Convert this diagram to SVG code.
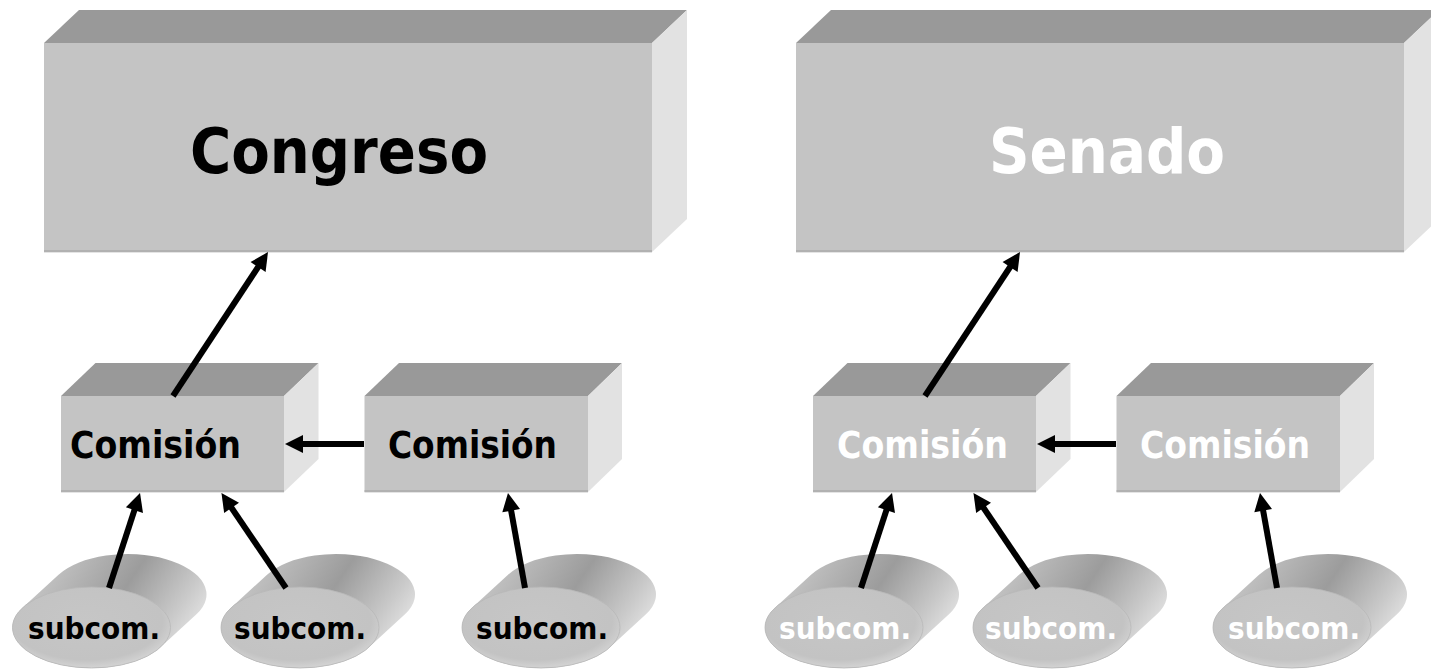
<svg xmlns="http://www.w3.org/2000/svg" xmlns:xlink="http://www.w3.org/1999/xlink" width="1431" height="669" viewBox="0 0 1431 669">
<style>
.front{fill:#c4c4c4}
.top{fill:#999999}
.side{fill:#e2e2e2}
.edge{stroke:#ababab;stroke-width:1.5;fill:none}
.edge2{stroke:#e4e4e4;stroke-width:1;fill:none}
.t{font-family:"DejaVu Sans Condensed","DejaVu Sans",sans-serif;font-stretch:condensed;font-weight:bold}
.big{font-size:63px}
.mid{font-size:37px}
.sm{font-size:30px}
.dark{fill:#000000}
.light{fill:#ffffff}
.arrow{stroke:#000000;stroke-width:6;fill:none;marker-end:url(#ah)}
</style>
<defs>
<marker id="ah" markerUnits="userSpaceOnUse" markerWidth="18" markerHeight="18" refX="6" refY="9" orient="auto" overflow="visible">
<path d="M0,0 L18,9 L0,18 Z" fill="#000000"/>
</marker>
<linearGradient id="cylBody" x1="0" y1="0.3" x2="1" y2="0.7">
<stop offset="0" stop-color="#cdcdcd"/>
<stop offset="0.5" stop-color="#9c9c9c"/>
<stop offset="0.8" stop-color="#cacaca"/>
<stop offset="1" stop-color="#ececec"/>
</linearGradient>
<radialGradient id="cylFace" cx="0.47" cy="0.42" r="0.6">
<stop offset="0" stop-color="#c6c6c6"/>
<stop offset="0.8" stop-color="#c3c3c3"/>
<stop offset="1" stop-color="#d6d6d6"/>
</radialGradient>
<g id="cyl">
<path d="M-68.96,-19.76 L-32.96,-52.76 A79,40.5 0 0 1 104.96,-13.24 L68.96,19.76 A79,40.5 0 0 1 -68.96,-19.76 Z" fill="url(#cylBody)"/>
<ellipse cx="0" cy="0" rx="79" ry="40.5" fill="url(#cylFace)" stroke="#b8b8b8" stroke-width="0.8"/>
</g>
</defs>
<rect width="1431" height="669" fill="#ffffff"/>

<g id="congreso">
<polygon class="top" points="44,43 79,10 687,10 652,43"/>
<polygon class="side" points="652,43 687,10 687,219 652,252"/>
<rect class="front" x="44" y="43" width="608" height="209"/>
<line class="edge" x1="44" y1="251" x2="652" y2="251"/>
<line class="edge2" x1="44" y1="252.5" x2="652" y2="252.5"/>
<text class="t big dark" x="190" y="173" textLength="298" lengthAdjust="spacingAndGlyphs">Congreso</text>
</g>

<g id="comision-c1">
<polygon class="top" points="61,396 95.5,363 318.5,363 284,396"/>
<polygon class="side" points="284,396 318.5,363 318.5,459 284,492"/>
<rect class="front" x="61" y="396" width="223" height="96"/>
<line class="edge" x1="61" y1="491" x2="284" y2="491"/>
<line class="edge2" x1="61" y1="492.5" x2="284" y2="492.5"/>
<text class="t mid dark" x="70" y="458" textLength="171" lengthAdjust="spacingAndGlyphs">Comisión</text>
</g>

<g id="comision-c2">
<polygon class="top" points="364.5,396 399,363 622,363 588,396"/>
<polygon class="side" points="588,396 622,363 622,459 588,492"/>
<rect class="front" x="364.5" y="396" width="223.5" height="96"/>
<line class="edge" x1="364.5" y1="491" x2="588" y2="491"/>
<line class="edge2" x1="364.5" y1="492.5" x2="588" y2="492.5"/>
<text class="t mid dark" x="388" y="458" textLength="169" lengthAdjust="spacingAndGlyphs">Comisión</text>
</g>

<g id="subcom-c1">
<use xlink:href="#cyl" href="#cyl" transform="translate(91.5,627.5)"/>
<text class="t sm dark" x="28" y="639" textLength="132" lengthAdjust="spacingAndGlyphs">subcom.</text>
</g>
<g id="subcom-c2">
<use xlink:href="#cyl" href="#cyl" transform="translate(300,627.5)"/>
<text class="t sm dark" x="234" y="639" textLength="132" lengthAdjust="spacingAndGlyphs">subcom.</text>
</g>
<g id="subcom-c3">
<use xlink:href="#cyl" href="#cyl" transform="translate(541,627.5)"/>
<text class="t sm dark" x="476" y="639" textLength="132" lengthAdjust="spacingAndGlyphs">subcom.</text>
</g>

<g id="senado">
<polygon class="top" points="796,43 831,10 1439,10 1404,43"/>
<polygon class="side" points="1404,43 1439,10 1439,219 1404,252"/>
<rect class="front" x="796" y="43" width="608" height="209"/>
<line class="edge" x1="796" y1="251" x2="1404" y2="251"/>
<line class="edge2" x1="796" y1="252.5" x2="1404" y2="252.5"/>
<text class="t big light" x="989" y="173" textLength="236" lengthAdjust="spacingAndGlyphs">Senado</text>
</g>

<g id="comision-s1">
<polygon class="top" points="813,396 847.5,363 1070.5,363 1036,396"/>
<polygon class="side" points="1036,396 1070.5,363 1070.5,459 1036,492"/>
<rect class="front" x="813" y="396" width="223" height="96"/>
<line class="edge" x1="813" y1="491" x2="1036" y2="491"/>
<line class="edge2" x1="813" y1="492.5" x2="1036" y2="492.5"/>
<text class="t mid light" x="837" y="458" textLength="171" lengthAdjust="spacingAndGlyphs">Comisión</text>
</g>

<g id="comision-s2">
<polygon class="top" points="1116.5,396 1151,363 1374,363 1340,396"/>
<polygon class="side" points="1340,396 1374,363 1374,459 1340,492"/>
<rect class="front" x="1116.5" y="396" width="223.5" height="96"/>
<line class="edge" x1="1116.5" y1="491" x2="1340" y2="491"/>
<line class="edge2" x1="1116.5" y1="492.5" x2="1340" y2="492.5"/>
<text class="t mid light" x="1140" y="458" textLength="170" lengthAdjust="spacingAndGlyphs">Comisión</text>
</g>

<g id="subcom-s1">
<use xlink:href="#cyl" href="#cyl" transform="translate(844,627.5)"/>
<text class="t sm light" x="779" y="639" textLength="132" lengthAdjust="spacingAndGlyphs">subcom.</text>
</g>
<g id="subcom-s2">
<use xlink:href="#cyl" href="#cyl" transform="translate(1052,627.5)"/>
<text class="t sm light" x="985" y="639" textLength="132" lengthAdjust="spacingAndGlyphs">subcom.</text>
</g>
<g id="subcom-s3">
<use xlink:href="#cyl" href="#cyl" transform="translate(1292,627.5)"/>
<text class="t sm light" x="1228" y="639" textLength="132" lengthAdjust="spacingAndGlyphs">subcom.</text>
</g>

<g id="connectors">
<line class="arrow" x1="173" y1="396" x2="261.4" y2="262"/>
<line class="arrow" x1="364" y1="444" x2="297" y2="444"/>
<line class="arrow" x1="109" y1="588" x2="136.3" y2="504.4"/>
<line class="arrow" x1="286" y1="588" x2="228.2" y2="502.9"/>
<line class="arrow" x1="525" y1="588" x2="510.1" y2="504.8"/>
<line class="arrow" x1="925" y1="396" x2="1013.4" y2="262"/>
<line class="arrow" x1="1116" y1="444" x2="1049" y2="444"/>
<line class="arrow" x1="861" y1="588" x2="888.3" y2="504.4"/>
<line class="arrow" x1="1038" y1="588" x2="980.2" y2="502.9"/>
<line class="arrow" x1="1277" y1="588" x2="1262.1" y2="504.8"/>
</g>
</svg>
